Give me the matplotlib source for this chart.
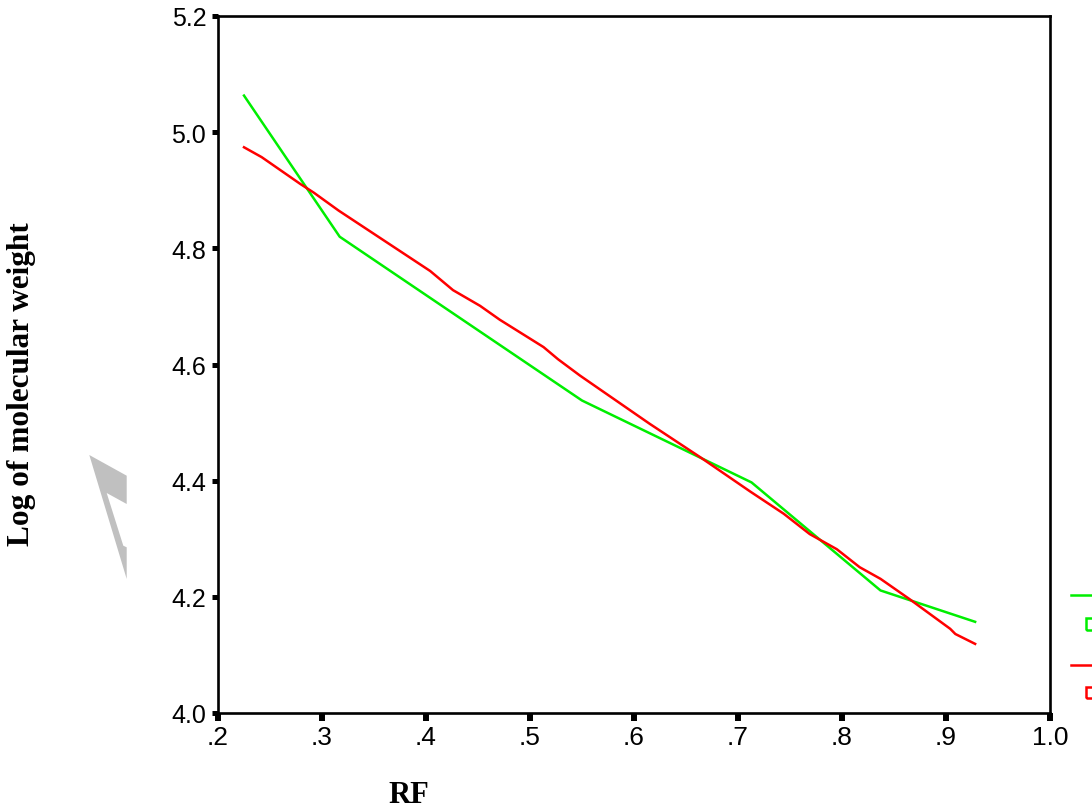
import matplotlib
matplotlib.use("Agg")
import matplotlib.pyplot as plt
from matplotlib.patches import Polygon, Rectangle
from matplotlib.lines import Line2D

# ---- data ----
green_rf = [0.225, 0.317, 0.550, 0.713, 0.837, 0.928]
green_logmw = [5.063, 4.820, 4.538, 4.397, 4.211, 4.157]

red_rf = [0.225, 0.242, 0.279, 0.292, 0.316, 0.404, 0.426, 0.452, 0.471,
          0.513, 0.527, 0.548, 0.615, 0.664, 0.712, 0.744, 0.769, 0.795,
          0.817, 0.837, 0.865, 0.904, 0.909, 0.928]
red_logmw = [4.974, 4.957, 4.911, 4.896, 4.865, 4.761, 4.728, 4.701, 4.677,
             4.630, 4.609, 4.581, 4.498, 4.440, 4.381, 4.343, 4.308, 4.282,
             4.251, 4.231, 4.196, 4.145, 4.136, 4.119]

x_ticks = [0.2, 0.3, 0.4, 0.5, 0.6, 0.7, 0.8, 0.9, 1.0]
x_ticklabels = [".2", ".3", ".4", ".5", ".6", ".7", ".8", ".9", "1.0"]
y_ticks = [4.0, 4.2, 4.4, 4.6, 4.8, 5.0, 5.2]
y_ticklabels = ["4.0", "4.2", "4.4", "4.6", "4.8", "5.0", "5.2"]

W, H = 1092, 812
fig = plt.figure(figsize=(W / 100, H / 100), dpi=100)
fig.patch.set_facecolor("white")

# axes frame in pixel terms: left 218, right 1050, top 17, bottom 714
ax = fig.add_axes([218 / W, 1 - 714 / H, (1050 - 218) / W, (714 - 17) / H])
ax.set_facecolor("white")

ax.plot(green_rf, green_logmw, color="#00ee00", lw=1.8)
ax.plot(red_rf, red_logmw, color="#ff0000", lw=1.8)

ax.set_xlim(0.2, 1.0)
ax.set_ylim(4.0, 5.2)
ax.set_xticks(x_ticks)
ax.set_xticklabels(x_ticklabels, fontfamily="Liberation Sans", fontsize=19)
ax.set_yticks(y_ticks)
ax.set_yticklabels(y_ticklabels, fontfamily="Liberation Sans", fontsize=18)
ax.tick_params(axis="x", direction="out", length=5.8, width=4.3, pad=3, color="black")
ax.tick_params(axis="y", direction="out", length=4.5, width=3.6, pad=4, color="black")

for s in ax.spines.values():
    s.set_linewidth(1.9)
    s.set_color("black")

# axis titles
fig.text(409 / W, 1 - 796 / H, "RF", fontfamily="Liberation Serif",
         fontweight="bold", fontsize=22, ha="center", va="center")
fig.text(22 / W, 1 - 384 / H, "Log of molecular weight", fontfamily="Liberation Serif",
         fontweight="bold", fontsize=22.5, rotation=90, ha="center", va="center")

# grey partially hidden shape at left
pts = [(89.3, 456), (126.7, 476.7), (126.7, 505), (106.7, 494),
       (123.3, 546.7), (126.7, 548.3), (126.7, 580)]
fig.add_artist(Polygon([(x / W, 1 - y / H) for x, y in pts], closed=True,
                       transform=fig.transFigure, facecolor="#c0c0c0",
                       edgecolor="none"))

# clipped legend at right edge
def fig_line(x0, x1, y, color):
    fig.add_artist(Line2D([x0 / W, x1 / W], [1 - y / H, 1 - y / H],
                          transform=fig.transFigure, color=color, lw=1.8))

def fig_box(x0, y0, w, h, color):
    fig.add_artist(Rectangle((x0 / W, 1 - (y0 + h) / H), w / W, h / H,
                             transform=fig.transFigure, facecolor="none",
                             edgecolor=color, lw=1.8))

fig_line(1071, 1095, 596, "#00ee00")
fig_box(1086, 619, 14, 12, "#00ee00")
fig_line(1071, 1095, 666, "#ff0000")
fig_box(1086, 688, 14, 11, "#ff0000")

fig.savefig("out.png", dpi=100, facecolor="white")
